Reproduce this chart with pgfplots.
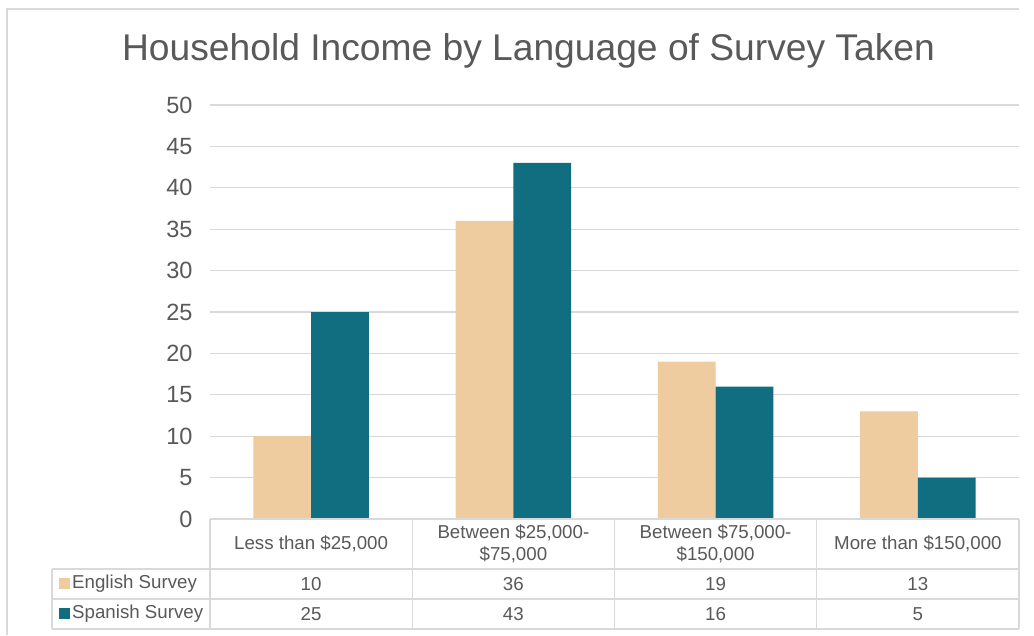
\documentclass[border=0pt]{standalone}
\usepackage{pgfplots}
\usepackage{pgfplotstable}
\pgfplotsset{compat=1.18}
\usepackage{fontspec}
\setmainfont{Liberation Sans}
\definecolor{engc}{RGB}{238,204,160}
\definecolor{spac}{RGB}{17,110,128}
\definecolor{gridc}{RGB}{217,217,217}
\definecolor{txtc}{RGB}{89,89,89}
\pgfplotstableread{
x eng spa
0 10 25
1 36 43
2 19 16
3 13 5
}\data
\begin{document}
\begin{tikzpicture}
\begin{scope}[x=1pt,y=1pt]
\useasboundingbox (0,0) rectangle (1034,635);
\fill[white] (0,0) rectangle (1034,635);
\draw[gridc,line width=1.3pt] (7,0) -- (7,626) -- (1019,626);
\node[txtc,font=\fontsize{37.2}{40}\selectfont] at (528.5,584) {Household Income by Language of Survey Taken};
\end{scope}
\begin{axis}[
  at={(210pt,116pt)}, anchor=south west,
  scale only axis, width=809pt, height=414pt,
  xmin=-0.5, xmax=3.5, ymin=0, ymax=50,
  enlargelimits=false,
  ybar=0pt, bar width=0.285,
  axis line style={draw=none},
  xtick=\empty,
  ytick={0,5,...,50},
  ymajorgrids, grid style={gridc,line width=1.2pt},
  major tick length=0pt,
  yticklabel style={txtc,font=\fontsize{23.5}{26}\selectfont,xshift=-14pt},
  /pgf/number format/assume math mode=true,
]
\addplot[fill=engc,draw=none] table[x=x,y=eng]{\data};
\addplot[fill=spac,draw=none] table[x=x,y=spa]{\data};
\end{axis}
\begin{scope}[x=1pt,y=1pt]
\begin{scope}[gridc,line width=1.2pt]
\draw (210,116) -- (1019,116);
\draw (52,66) -- (1019,66);
\draw (52,36) -- (1019,36);
\draw (52,6) -- (1019,6);
\draw (52,66) -- (52,6);
\foreach \xx in {210,412.25,614.5,816.75,1019}{\draw (\xx,116) -- (\xx,6);}
\end{scope}
\begin{scope}[txtc,font=\fontsize{18.7}{21.5}\selectfont]
\node[align=center] at (311.1,91) {Less than \$25,000};
\node[align=center] at (513.4,91) {Between \$25,000-\\\$75,000};
\node[align=center] at (715.6,91) {Between \$75,000-\\\$150,000};
\node[align=center] at (917.9,91) {More than \$150,000};
\fill[engc] (59,46) rectangle (70,57);
\fill[spac] (59,16) rectangle (70,27);
\node[anchor=west,inner sep=0pt] at (72,51) {English Survey};
\node[anchor=west,inner sep=0pt] at (72,21) {Spanish Survey};
\foreach \i in {0,...,3}{
  \pgfplotstablegetelem{\i}{eng}\of\data
  \node at ({311.1+202.25*\i},51) {\pgfplotsretval};
  \pgfplotstablegetelem{\i}{spa}\of\data
  \node at ({311.1+202.25*\i},21) {\pgfplotsretval};
}
\end{scope}
\end{scope}
\end{tikzpicture}
\end{document}
